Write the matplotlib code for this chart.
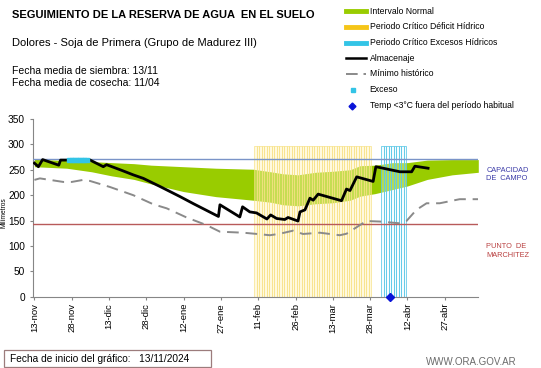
import matplotlib
matplotlib.use("Agg")
from matplotlib import pyplot as plt
from matplotlib.lines import Line2D
from matplotlib.patches import Rectangle

plt.rcParams['font.family'] = ['Liberation Sans', 'DejaVu Sans']

# days since 13-nov-2024
tick_days = [0, 15, 30, 45, 60, 75, 90, 105, 120, 135, 150, 165]
tick_labels = ['13-nov', '28-nov', '13-dic', '28-dic', '12-ene', '27-ene',
               '11-feb', '26-feb', '13-mar', '28-mar', '12-abr', '27-abr']

# Intervalo normal (band)
band_days = [0, 13, 23, 31, 40, 47, 60, 73, 88, 95, 100, 106, 113, 120, 127,
             131, 137, 144, 150, 158, 168, 178.5]
band_top = [271, 268, 266, 264, 262, 259, 256, 253, 251, 246, 242, 240, 245,
            247, 250, 258, 259, 264, 264, 269, 270, 270]
band_bot = [256, 253, 246, 238, 231, 222, 207, 197, 190, 186, 181, 179, 183,
            185, 190, 198, 203, 211, 218, 231, 240, 245]

# Almacenaje
alm_days = [0, 1.6, 3.3, 9.8, 10.5, 13.6, 22, 27.7, 29, 35, 39.7, 43.8, 50.5,
            58.6, 64, 74, 74.6, 82.6, 83.7, 86.6, 89.3, 93.5, 95, 97.4, 100.7,
            102, 106, 106.8, 108.8, 110.8, 112.1, 114.1, 123.5, 125.5, 126.9,
            129.6, 136.2, 137.3, 147, 151.7, 153, 158.3]
alm_vals = [263, 256, 270, 259, 269, 269, 270, 256, 260, 249, 240, 233, 217,
            197, 183, 158, 181, 157, 177, 167, 165, 153, 161, 154, 152,
            156, 149, 167, 171, 194, 190, 202, 189, 212, 209,
            236, 227, 256, 246, 246, 257, 253]

# Minimo historico
min_days = [0, 2.2, 11.6, 15, 19.6, 22.3, 30.4, 39.7, 47.8, 53.2, 61.2, 69.2,
            74.6, 84, 90.7, 94.7, 98.7, 104, 108, 114.8, 122.8, 125.5, 130.9,
            133.5, 138.9, 146.9, 149.6, 153.6, 157.7, 163, 171, 178.5]
min_vals = [230, 233, 226, 226, 230, 228, 216, 200, 182, 174, 156, 141,
            128, 126, 123, 121, 124, 130, 123.5, 126, 121, 124, 141,
            149, 148, 144.5, 149, 171, 184, 184, 192, 192]

# periodos criticos (daily bars)
deficit_days = list(range(89, 136))
exceso_hid_days = list(range(140, 150))
stripe_top = 297

exceso_days = [14, 15, 16, 17, 18, 19, 20, 21]
exceso_vals = [270, 270, 270, 270, 270, 270, 270, 270]

frio_days = [143]
frio_vals = [0]

capacidad = 271
marchitez = 143

fig = plt.figure(figsize=(5.41, 3.68), dpi=100)
ax = fig.add_axes([0.0604, 0.1938, 0.8237, 0.4829])

ax.fill_between(band_days, band_bot, band_top, color='#99cc00', lw=0, zorder=1)
ax.bar(deficit_days, [stripe_top] * len(deficit_days), width=1.0,
       color=(1.0, 0.95, 0.72, 0.45), edgecolor=(0.97, 0.88, 0.5, 0.75),
       linewidth=0.6, zorder=2)
ax.bar(exceso_hid_days, [stripe_top] * len(exceso_hid_days), width=1.0,
       color=(0.9, 0.97, 1.0, 0.35), edgecolor=(0.35, 0.78, 0.9, 0.9),
       linewidth=0.6, zorder=2)

ax.axhline(capacidad, color='#7a94c8', lw=1.0, zorder=3)
ax.axhline(marchitez, color='#b85a5a', lw=1.0, zorder=3)

ax.plot(min_days, min_vals, color='#8a8a8a', lw=1.4, dashes=(6, 3.5), zorder=4)
ax.plot(alm_days, alm_vals, color='black', lw=2.0, zorder=5)
ax.plot(exceso_days, exceso_vals, ls='none', marker='s', ms=2.5,
        color='#33c4e6', zorder=6)
ax.plot(frio_days, frio_vals, ls='none', marker='D', ms=4.5,
        color='#0a14d8', zorder=7, clip_on=False)

ax.set_xlim(-0.7, 178.5)
ax.set_ylim(0, 350)
ax.set_yticks(range(0, 351, 50))
ax.set_xticks(tick_days)
ax.set_xticklabels(tick_labels, rotation=90, fontsize=6.8)
ax.tick_params(axis='y', labelsize=7.3, length=2.5, color='#868686', pad=3)
ax.tick_params(axis='x', length=2.5, color='#868686', pad=2)
for s in ['top', 'right']:
    ax.spines[s].set_visible(False)
for s in ['left', 'bottom']:
    ax.spines[s].set_color('#868686')

W, H = 541, 368
def fx(px):
    return px / W
def fy(py):
    return 1 - py / H

fig.text(fx(4), fy(213), 'Milímetros', fontsize=4.8, rotation=90,
         ha='center', va='center')

# right-side labels
fig.text(fx(486.5), fy(174.5), 'CAPACIDAD\nDE  CAMPO', fontsize=5.3,
         color='#3c3ca8', va='center', ha='left', multialignment='left',
         linespacing=1.35)
fig.text(fx(486.5), fy(251), 'PUNTO  DE\nMARCHITEZ', fontsize=5.3,
         color='#b94040', va='center', ha='left', multialignment='left',
         linespacing=1.35)

# header texts
fig.text(fx(12), fy(15), 'SEGUIMIENTO DE LA RESERVA DE AGUA  EN EL SUELO',
         fontsize=8, fontweight='bold', va='center')
fig.text(fx(12), fy(43.5), 'Dolores - Soja de Primera (Grupo de Madurez III)',
         fontsize=8, va='center')
fig.text(fx(12), fy(71.5), 'Fecha media de siembra: 13/11', fontsize=7.5, va='center')
fig.text(fx(12), fy(83), 'Fecha media de cosecha: 11/04', fontsize=7.5, va='center')

# legend
leg_rows = [11, 26.7, 42.7, 58.3, 74, 90, 106]
leg_text = ['Intervalo Normal', 'Periodo Crítico Déficit Hídrico',
            'Periodo Crítico Excesos Hídricos', 'Almacenaje', 'Mínimo histórico',
            'Exceso', 'Temp <3°C fuera del período habitual']
line_styles = [dict(color='#99cc00', lw=3.5), dict(color='#f5c518', lw=3.5),
               dict(color='#33c4e6', lw=3.5), dict(color='black', lw=1.8),
               dict(color='#8a8a8a', lw=1.4, dashes=(6, 3))]
for i, st in enumerate(line_styles):
    fig.add_artist(Line2D([fx(346), fx(366)], [fy(leg_rows[i])] * 2, **st))
fig.add_artist(Line2D([fx(352.7)], [fy(leg_rows[5])], marker='s', ms=2.5,
                      color='#33c4e6', ls='none'))
fig.add_artist(Line2D([fx(352)], [fy(leg_rows[6])], marker='D', ms=3.5,
                      color='#0a14d8', ls='none'))
for i, t in enumerate(leg_text):
    fig.text(fx(369.5), fy(leg_rows[i]), t, fontsize=6.2, va='center')

# footer
fig.add_artist(Rectangle((fx(3.5), fy(367)), fx(211 - 3.5), (367 - 350) / H,
                         transform=fig.transFigure, fill=False,
                         edgecolor='#9c7c7c', lw=0.9))
fig.text(fx(9.5), fy(359), 'Fecha de inicio del gráfico:   13/11/2024',
         fontsize=7.3, va='center')
fig.text(fx(517), fy(362), 'WWW.ORA.GOV.AR', fontsize=7, color='#6b6b6b',
         ha='right', va='center')

fig.savefig('out.png', dpi=100)
